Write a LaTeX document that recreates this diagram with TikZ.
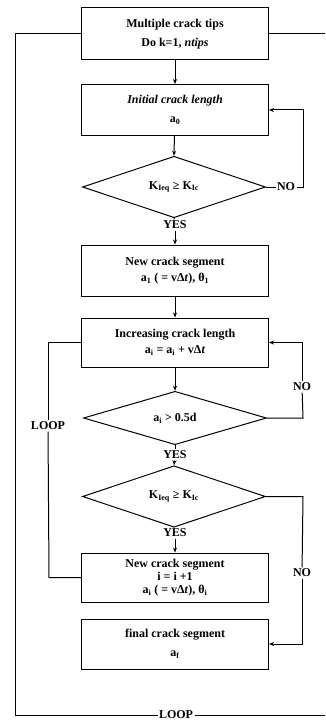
\documentclass[tikz,border=0pt]{standalone}
\usepackage{fontspec}
\setmainfont{Liberation Serif}
\usetikzlibrary{shapes.geometric,arrows.meta}
\begin{document}
\begin{tikzpicture}[x=1pt,y=-1pt,
  font=\fontsize{12}{16}\selectfont\bfseries,
  every path/.style={line width=1pt},
  procbox/.style={draw,rectangle,minimum width=187pt,inner sep=0pt,align=center},
  decision/.style={draw,diamond,minimum width=183pt,minimum height=50pt,inner sep=0pt,align=center},
  tag/.style={fill=white,inner sep=1pt},
  flow/.style={-{Stealth[length=5pt,width=4pt]}}]
\useasboundingbox (0,0) rectangle (325,722);

% process boxes
\node[procbox,minimum height=52pt] (b1) at (175,34) {Multiple crack tips\\[3pt]Do k=1, \textit{ntips}};
\node[procbox,minimum height=51pt] (b2) at (175,110) {\textit{Initial crack length}\\[3pt]a\textsubscript{0}};
\node[decision] (d1) at (174,187) {K\textsubscript{Ieq} ≥ K\textsubscript{Ic}};
\node[tag] (y1) at (175,225) {YES};
\node[procbox,minimum height=51pt] (b3) at (175,270.5) {New crack segment\\a\textsubscript{1} ( = vΔ\textit{t}), θ\textsubscript{1}};
\node[procbox,minimum height=49pt] (b4) at (175,342.5) {Increasing crack length\\a\textsubscript{i} = a\textsubscript{i} + vΔ\textit{t}};
\node[decision] (d2) at (175,418) {a\textsubscript{i} > 0.5d};
\node[tag] (y2) at (175,455) {YES};
\node[decision] (d3) at (174,496.5) {K\textsubscript{Ieq} ≥ K\textsubscript{Ic}};
\node[tag] (y3) at (175,533) {YES};
\node[procbox,minimum height=49pt,font=\fontsize{12}{13}\selectfont\bfseries] (b5) at (175,577.5) {New crack segment\\i = i +1\\a\textsubscript{i} ( = vΔ\textit{t}), θ\textsubscript{i}};
\node[procbox,minimum height=50pt] (b6) at (175,644) {final crack segment\\[3pt]a\textsubscript{f}};

% branch labels
\node[tag] (n1) at (286,187) {NO};
\node[tag] (n2) at (302,387) {NO};
\node[tag] (n3) at (302,573) {NO};
\node[tag] (lp1) at (48,426) {LOOP};
\node[tag] (lp2) at (176,715) {LOOP};

% corner points of the return lines
\coordinate (r1) at (303,110);
\coordinate (r2) at (303,418);
\coordinate (r3) at (303,496.5);
\coordinate (l1) at (49,577.5);
\coordinate (o1) at (15,34);
\coordinate (o2) at (15,715);
\coordinate (o3) at (325,715);
\coordinate (o4) at (325,34);

% main flow
\draw[flow] (b1) -- (b2);
\draw[flow] (b2) -- (d1.north);
\draw (d1.south) -- (y1);
\draw[flow] (y1) -- (b3);
\draw[flow] (b3) -- (b4);
\draw[flow] (b4) -- (d2.north);
\draw (d2.south) -- (y2);
\draw[flow] (y2) -- (d3.north);
\draw (d3.south) -- (y3);
\draw[flow] (y3) -- (b5);

% NO branches
\draw (d1.east) -- (n1);
\draw[flow] (n1) -| (r1) -- (b2.east);
\draw (d2.east) -- (r2) -- (n2);
\draw[flow] (n2) |- (b4.east);
\draw (d3.east) -- (r3) -- (n3);
\draw[flow] (n3) |- (b6.east);

% inner loop
\draw (b5.west) -- (l1) -- (lp1);
\draw (lp1) |- (b4.west);

% outer loop over the crack tips
\draw (b1.west) -- (o1) -- (o2) -- (lp2);
\draw (lp2) -- (o3);
\draw (b1.east) -- (o4);
\end{tikzpicture}
\end{document}
